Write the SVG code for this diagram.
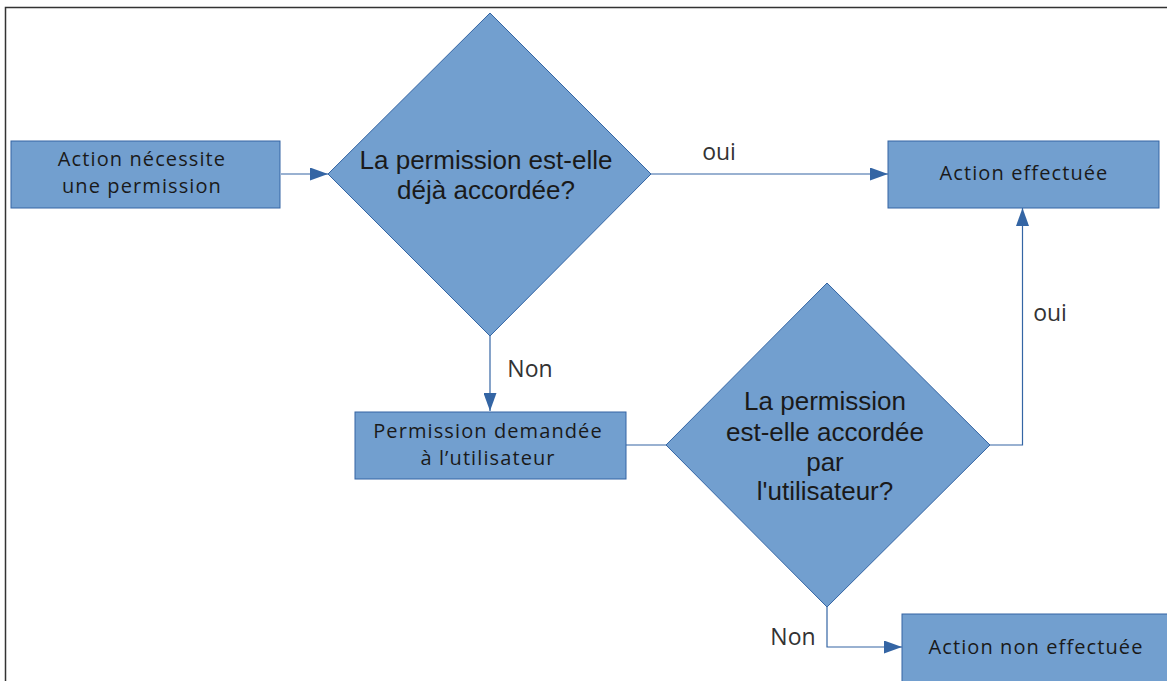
<svg xmlns="http://www.w3.org/2000/svg" width="1167" height="681" viewBox="0 0 1167 681">
<style>
.node{fill:#729fcf;stroke:#3465a4;stroke-width:1}
.box{font-family:"Open Sans",sans-serif;font-size:20px;letter-spacing:1.1px;fill:#1a1a1a;text-anchor:middle}
.dia{font-family:"Liberation Sans",Arial,sans-serif;font-size:26px;fill:#1a1a1a;text-anchor:middle}
.lbl{font-family:"Open Sans",sans-serif;font-size:23px;fill:#333;text-anchor:middle}
.edge{fill:none;stroke:#3465a4;stroke-width:1.2}
</style>
<defs>
<marker id="arr" markerWidth="18" markerHeight="13" refX="18" refY="6.5" orient="auto" markerUnits="userSpaceOnUse">
<path d="M0,0 L18,6.5 L0,13 Z" fill="#3465a4"/>
</marker>
</defs>
<rect x="0" y="0" width="1167" height="681" fill="#fff"/>
<path d="M5.5,681 V7.5 H1167" fill="none" stroke="#333" stroke-width="1.5"/>
<g id="connectors">
<path class="edge" d="M281,174 H328" marker-end="url(#arr)"/>
<path class="edge" d="M651,174 H888" marker-end="url(#arr)"/>
<path class="edge" d="M490,336 V411" marker-end="url(#arr)"/>
<path class="edge" d="M626,445 H666"/>
<path class="edge" d="M990,445 H1022.5 V208" marker-end="url(#arr)"/>
<path class="edge" d="M827,607 V647 H902" marker-end="url(#arr)"/>
<text class="lbl" x="719" y="160">oui</text>
<text class="lbl" x="530" y="377">Non</text>
<text class="lbl" x="1050" y="321">oui</text>
<text class="lbl" x="793" y="645">Non</text>
</g>
<g id="n1">
<rect class="node" x="11" y="141" width="269" height="67"/>
<text class="box" x="142" y="166">Action nécessite</text>
<text class="box" x="142" y="193">une permission</text>
</g>
<g id="n2">
<polygon class="node" points="490,13 651,174 490,336 328,174"/>
<text class="dia" x="486" y="169">La permission est-elle</text>
<text class="dia" x="486" y="199">déjà accordée?</text>
</g>
<g id="n3">
<rect class="node" x="888" y="141" width="271" height="67"/>
<text class="box" x="1024" y="180">Action effectuée</text>
</g>
<g id="n4">
<rect class="node" x="355" y="412" width="271" height="67"/>
<text class="box" x="488" y="438">Permission demandée</text>
<text class="box" x="488" y="465">à l’utilisateur</text>
</g>
<g id="n5">
<polygon class="node" points="827,283 990,445 827,607 666,445"/>
<text class="dia" x="825" y="410">La permission</text>
<text class="dia" x="825" y="441">est-elle accordée</text>
<text class="dia" x="825" y="471">par</text>
<text class="dia" x="825" y="500">l'utilisateur?</text>
</g>
<g id="n6">
<rect class="node" x="902" y="614" width="270" height="80"/>
<text class="box" x="1036" y="654">Action non effectuée</text>
</g>
</svg>
